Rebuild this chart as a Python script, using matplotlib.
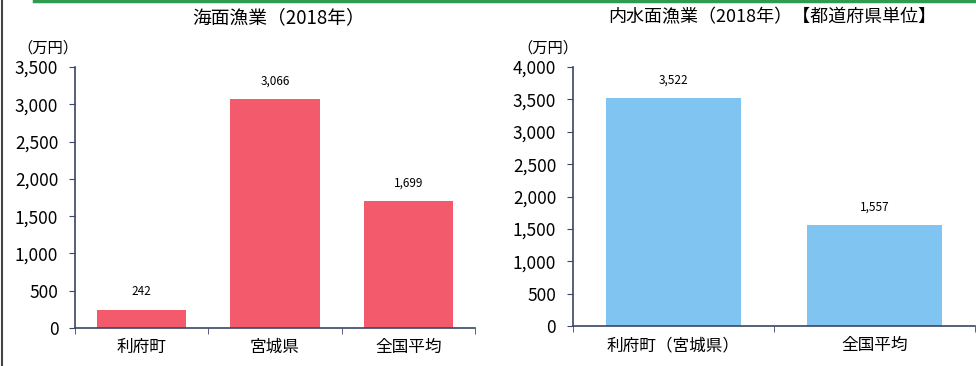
import matplotlib.pyplot as plt
from matplotlib.ticker import FuncFormatter, FixedLocator

plt.rcParams['font.family'] = ['Noto Sans CJK JP', 'DejaVu Sans']

# --- DATOS ---
mar_categorias = ["利府町", "宮城県", "全国平均"]
mar_valores = [242, 3066, 1699]

interior_categorias = ["利府町（宮城県）", "全国平均"]
interior_valores = [3522, 1557]

titulo_mar = "海面漁業（2018年）"
titulo_interior = "内水面漁業（2018年）【都道府県単位】"
unidad = "（万円）"

ROJO = "#f35b6c"
AZUL = "#80c4f1"
EJE = "#3b4663"


def dibujar(ax, categorias, valores, color, ymax, paso):
    x = list(range(len(categorias)))
    ax.bar(x, valores, width=0.67, color=color)
    for xi, v in zip(x, valores):
        ax.text(xi, v + ymax * 0.045, f"{v:,}", ha='center', va='bottom', fontsize=8.5)

    ax.set_xlim(-0.5, len(categorias) - 0.5)
    ax.set_ylim(0, ymax)
    ax.set_yticks(range(0, ymax + 1, paso))
    ax.yaxis.set_major_formatter(FuncFormatter(lambda v, p: f"{int(v):,}"))
    ax.set_xticks(x)
    ax.set_xticklabels(categorias, fontsize=12)
    ax.tick_params(axis='x', length=0, pad=8)
    ax.xaxis.set_minor_locator(FixedLocator([i - 0.5 for i in range(len(categorias) + 1)]))
    ax.tick_params(axis='x', which='minor', length=4, color=EJE, direction='out')
    ax.tick_params(axis='y', length=4, color=EJE, labelsize=12.5, pad=8)

    for s in ['top', 'right']:
        ax.spines[s].set_visible(False)
    for s in ['left', 'bottom']:
        ax.spines[s].set_color(EJE)
        ax.spines[s].set_linewidth(1.2)


fig = plt.figure(figsize=(9.76, 3.66), dpi=100)

ax1 = fig.add_axes([0.0768, 0.1038, 0.41, 0.713])
dibujar(ax1, mar_categorias, mar_valores, ROJO, 3500, 500)
fig.text(0.285, 0.952, titulo_mar, ha='center', va='center', fontsize=13.5)
fig.text(0.049, 0.868, unidad, ha='center', va='center', fontsize=11)

ax2 = fig.add_axes([0.587, 0.109, 0.412, 0.708])
dibujar(ax2, interior_categorias, interior_valores, AZUL, 4000, 500)
fig.text(0.791, 0.952, titulo_interior, ha='center', va='center', fontsize=13)
fig.text(0.561, 0.868, unidad, ha='center', va='center', fontsize=11)

# borde del recuadro: verde arriba, oscuro a la izquierda
fig.add_artist(plt.Line2D([0.035, 1.0], [0.997, 0.997], color="#2e9b4e", lw=2.5))
fig.add_artist(plt.Line2D([0.002, 0.002], [0.0, 1.0], color="#444444", lw=1.5))

fig.savefig("out.png", dpi=100)
